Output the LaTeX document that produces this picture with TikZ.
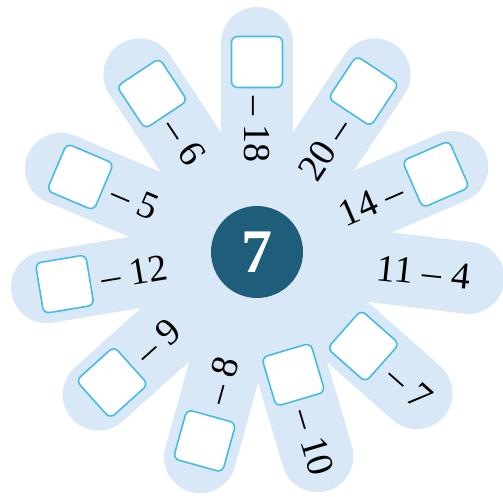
\documentclass[tikz,border=0pt]{standalone}
\usepackage{fontspec}
\setmainfont{Liberation Serif}
\definecolor{petal}{RGB}{216,232,246}
\definecolor{hub}{RGB}{31,94,122}
\definecolor{boxline}{RGB}{72,186,228}
\tikzset{
  petalline/.style={line width=72pt, line cap=round, draw=petal},
  answerbox/.style={draw=boxline, line width=1.6pt, fill=white, rounded corners=6pt,
    minimum width=51pt, minimum height=51pt, inner sep=0pt},
  numtext/.style={font=\fontsize{38}{42}\selectfont, inner sep=0pt, text height=25pt, text depth=0pt},
  hubnode/.style={circle, fill=hub, minimum size=92pt, inner sep=0pt,
    font=\fontsize{62}{70}\selectfont\bfseries, text=white}
}
\begin{document}
\begin{tikzpicture}[x=1pt,y=1pt]
\useasboundingbox (-257,-244) rectangle (246,252);
% petals
\draw[petalline] (0,0) -- (90:209);
\foreach \a in {56.5,23.5,-7,-41.5,-73.5,-105.5,-138,-170.5,157,123.5}
  \draw[petalline] (0,0) -- (\a:213);
% hub
\node[hubnode] (hub) at (0,0) {7};
% boxes
\node[answerbox, rotate=0]     (b1)  at (90:190) {};
\node[answerbox, rotate=56.5]  (b2)  at (56.5:193) {};
\node[answerbox, rotate=23.5]  (b3)  at (23.5:195) {};
\node[answerbox, rotate=-41.5] (b5)  at (-41.5:142) {};
\node[answerbox, rotate=-73.5] (b6)  at (-73.5:128) {};
\node[answerbox, rotate=-105.5](b7)  at (-105.5:196) {};
\node[answerbox, rotate=-138]  (b8)  at (-138:195) {};
\node[answerbox, rotate=-170.5](b9)  at (-170.5:195) {};
\node[answerbox, rotate=157]   (b10) at (157:192) {};
\node[answerbox, rotate=123.5] (b11) at (123.5:190) {};
% texts
\node[numtext, anchor=west, rotate=-90]   (t1)  at (90:156) {\textendash{} 18};
\node[numtext, anchor=east, rotate=56.5]  (t2)  at (56.5:157) {20 \textendash};
\node[numtext, anchor=east, rotate=23.5]  (t3)  at (23.5:158) {14 \textendash};
\node[numtext, rotate=-6]                 (t4)  at (-7:168) {11 \textendash{} 4};
\node[numtext, anchor=west, rotate=-41.5] (t5)  at (-41.5:180) {\textendash{} 7};
\node[numtext, anchor=west, rotate=-73.5] (t6)  at (-73.5:165) {\textendash{} 10};
\node[numtext, anchor=west, rotate=74.5]  (t7)  at (-105.5:157) {\textendash{} 8};
\node[numtext, anchor=west, rotate=42]    (t8)  at (-138:157) {\textendash{} 9};
\node[numtext, anchor=west, rotate=9.5]   (t9)  at (-170.5:158) {\textendash{} 12};
\node[numtext, anchor=west, rotate=-23]   (t10) at (157:156) {\textendash{} 5};
\node[numtext, anchor=west, rotate=-56.5] (t11) at (123.5:156) {\textendash{} 6};
\end{tikzpicture}
\end{document}
